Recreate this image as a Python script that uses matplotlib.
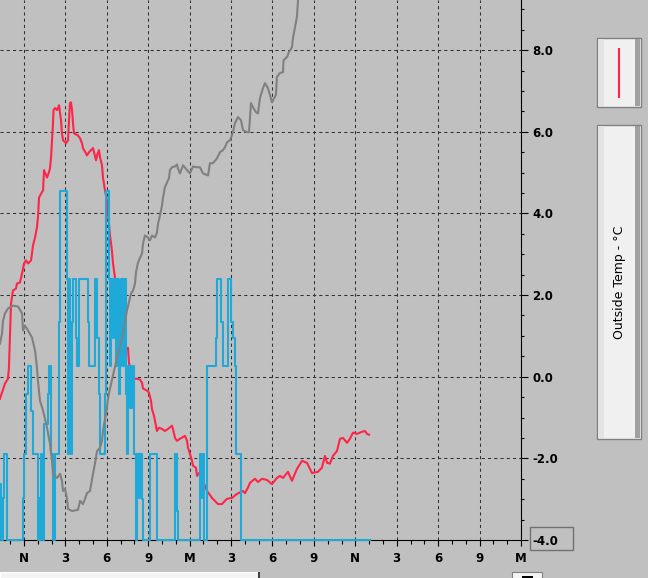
import matplotlib
matplotlib.use("Agg")
import matplotlib.pyplot as plt
from matplotlib.patches import Rectangle
from matplotlib.lines import Line2D
from matplotlib.ticker import MultipleLocator

# hours counted from midnight of the first day (12 = noon)
red_h = [10.26, 10.62, 10.84, 10.91, 10.99, 11.06, 11.20, 11.42, 11.49, 11.71,
         11.86, 12.00, 12.15, 12.29, 12.51, 12.58, 12.65, 12.80, 12.94, 13.01,
         13.09, 13.30, 13.38, 13.45, 13.67, 13.81, 13.88, 13.96, 14.03, 14.10,
         14.14, 14.25, 14.39, 14.54, 14.68, 14.75, 14.83, 15.04, 15.19, 15.26,
         15.33, 15.40, 15.48, 15.55, 15.62, 15.91, 16.06, 16.20, 16.27, 16.49,
         16.56, 16.71, 17.00, 17.07, 17.22, 17.29, 17.43, 17.51, 17.65, 17.72,
         17.87, 18.01, 18.23, 18.37, 18.45, 18.59, 18.66, 18.81, 19.10, 19.32,
         19.53, 19.61, 19.82, 19.89, 20.18, 20.40, 20.55, 20.62, 20.91, 21.05,
         21.20, 21.27, 21.42, 21.49, 21.63, 21.78, 22.00, 22.21, 22.43, 22.72,
         22.79, 22.94, 23.08, 23.30, 23.66, 23.81, 23.88, 24.02, 24.17, 24.24,
         24.46, 24.53, 24.68, 24.89, 24.96, 25.26, 25.62, 26.05, 26.34, 26.70,
         27.07, 27.43, 27.86, 28.01, 28.22, 28.37, 28.73, 28.95, 29.24, 29.60,
         29.96, 30.32, 30.54, 30.76, 31.12, 31.41, 31.77, 32.14, 32.50, 32.86,
         33.29, 33.58, 33.80, 33.95, 34.16, 34.38, 34.67, 34.89, 35.11, 35.40,
         35.61, 35.83, 36.12, 36.48, 36.70, 36.84, 36.99]
red_v = [-0.54, -0.17, -0.05, 0.22, 1.06, 1.79, 2.11, 2.16, 2.28, 2.31,
         2.53, 2.77, 2.85, 2.77, 2.85, 3.02, 3.21, 3.41, 3.66, 3.90,
         4.39, 4.52, 4.56, 5.06, 4.88, 5.01, 5.10, 5.37, 5.79, 6.21,
         6.53, 6.58, 6.53, 6.65, 6.28, 5.96, 5.79, 5.72, 5.79, 6.28,
         6.70, 6.72, 6.53, 6.21, 5.96, 5.91, 5.84, 5.72, 5.60, 5.47,
         5.42, 5.50, 5.60, 5.50, 5.30, 5.42, 5.55, 5.37, 5.18, 4.88,
         4.56, 4.32, 3.46, 3.09, 2.77, 2.43, 1.62, 1.01, 0.71, 0.64,
         0.71, 0.32, 0.15, -0.05, -0.05, -0.07, -0.15, -0.29, -0.34, -0.39,
         -0.59, -0.79, -0.96, -1.08, -1.33, -1.25, -1.28, -1.33, -1.28, -1.20,
         -1.28, -1.50, -1.57, -1.52, -1.45, -1.57, -1.74, -1.89, -2.06, -2.18,
         -2.23, -2.43, -2.36, -2.38, -2.55, -2.80, -2.97, -3.12, -3.12, -2.99,
         -2.97, -2.87, -2.80, -2.85, -2.72, -2.60, -2.50, -2.58, -2.50, -2.53,
         -2.63, -2.48, -2.43, -2.48, -2.33, -2.55, -2.26, -2.06, -2.11, -2.36,
         -2.33, -2.23, -1.94, -2.11, -2.13, -1.94, -1.82, -1.52, -1.50, -1.62,
         -1.52, -1.37, -1.40, -1.35, -1.33, -1.40, -1.42]

gray_h = [10.26, 10.41, 10.48, 10.62, 10.84, 11.20, 11.57, 11.86, 11.93, 12.07,
          12.29, 12.58, 12.80, 12.94, 13.01, 13.16, 13.38, 13.67, 13.88, 14.03,
          14.10, 14.39, 14.61, 14.75, 14.83, 14.97, 15.11, 15.19, 15.48, 15.91,
          16.06, 16.27, 16.42, 16.56, 16.78, 17.00, 17.14, 17.29, 17.51, 17.65,
          17.72, 18.01, 18.09, 18.23, 18.74, 19.10, 19.46, 19.75, 19.90, 20.04,
          20.11, 20.26, 20.55, 20.62, 20.76, 20.98, 21.13, 21.27, 21.49, 21.63,
          21.71, 21.85, 22.00, 22.07, 22.21, 22.36, 22.50, 22.57, 22.72, 22.94,
          23.08, 23.15, 23.30, 23.52, 23.81, 24.02, 24.24, 24.53, 24.75, 24.96,
          25.33, 25.47, 25.69, 25.98, 26.20, 26.41, 26.56, 26.70, 26.92, 27.14,
          27.28, 27.50, 27.72, 27.86, 28.15, 28.30, 28.44, 28.59, 28.80, 28.95,
          29.09, 29.31, 29.46, 29.67, 29.82, 29.96, 30.11, 30.25, 30.32, 30.54,
          30.76, 30.80, 31.05, 31.19, 31.41, 31.48, 31.63, 31.77, 31.85, 32.35]
gray_v = [0.81, 1.06, 1.37, 1.55, 1.67, 1.74, 1.72, 1.55, 1.13, 1.25,
          1.13, 0.96, 0.64, 0.22, -0.10, -0.59, -0.83, -1.25, -1.64, -2.06,
          -2.38, -2.48, -2.38, -2.55, -2.80, -2.75, -2.97, -3.24, -3.29, -3.26,
          -3.04, -3.12, -2.99, -2.85, -2.80, -2.38, -2.13, -1.82, -1.74, -1.57,
          -1.33, -0.76, -0.52, -0.29, 0.47, 0.96, 1.62, 2.04, 2.11, 2.28,
          2.55, 2.80, 3.02, 3.26, 3.46, 3.41, 3.34, 3.46, 3.41, 3.53,
          3.75, 3.95, 4.20, 4.39, 4.64, 4.76, 4.86, 5.06, 5.13, 5.15,
          5.20, 5.10, 4.98, 5.18, 5.06, 4.98, 5.15, 5.13, 5.13, 4.98,
          4.93, 5.23, 5.23, 5.35, 5.50, 5.55, 5.62, 5.74, 5.79, 5.99,
          6.21, 6.36, 6.28, 6.04, 5.99, 5.99, 6.70, 6.60, 6.48, 6.45,
          6.82, 7.07, 7.19, 7.07, 6.90, 6.72, 6.82, 6.90, 7.34, 7.44,
          7.46, 7.75, 7.83, 7.95, 8.07, 8.29, 8.56, 8.81, 9.23, 9.96]

blue_h = [10.26, 10.33, 10.48, 10.55, 10.77, 11.93, 12.00, 12.15, 12.29, 12.51,
          12.65, 13.01, 13.09, 13.16, 13.23, 13.30, 13.38, 13.45, 13.74, 13.81,
          13.96, 14.10, 14.25, 14.54, 14.61, 15.11, 15.19, 15.26, 15.33, 15.40,
          15.48, 15.55, 15.77, 15.84, 15.98, 16.64, 16.71, 17.14, 17.29, 17.43,
          17.51, 17.87, 17.94, 18.16, 18.23, 18.30, 18.45, 18.52, 18.66, 18.74,
          18.88, 18.95, 19.03, 19.17, 19.24, 19.39, 19.46, 19.53, 19.68, 19.82,
          19.97, 20.11, 20.18, 20.33, 20.40, 20.55, 20.62, 21.13, 21.63, 22.94,
          23.08, 23.15, 24.75, 24.89, 24.96, 25.04, 25.26, 25.91, 25.98, 26.27,
          26.41, 26.78, 26.99, 27.14, 27.28, 27.36, 27.72, 37.06]
blue_v = [-2.63, -4.0, -2.97, -1.89, -4.0, -2.97, -1.89, -0.42, 0.27, -0.83,
          -1.89, -4.0, -2.97, -4.0, -1.89, -2.97, -4.0, -1.15, -0.42, 0.27,
          -1.89, -4.0, -1.89, 1.33, 4.56, 2.40, -1.89, 2.40, -0.42, -1.89,
          1.33, 2.40, 0.96, 0.27, 2.40, 1.33, 0.27, 2.40, 0.96, -0.42,
          -1.89, -0.42, 4.56, 2.40, 0.27, 2.40, 0.96, 2.40, 0.27, 2.40,
          -0.42, 0.27, 2.40, 0.27, 2.40, -0.42, -1.89, 0.27, -0.76, 0.27,
          -1.89, -4.0, -1.89, -2.97, -1.89, -2.99, -4.0, -1.89, -4.0, -1.89,
          -3.29, -4.0, -1.89, -2.97, -1.89, -4.0, 0.27, 0.96, 2.40, 1.33,
          0.27, 2.40, 1.33, 0.96, 0.27, -1.89, -4.0, -4.0]

x_ticks = [12, 15, 18, 21, 24, 27, 30, 33, 36, 39, 42, 45, 48]
x_labels = ["N", "3", "6", "9", "M", "3", "6", "9", "N", "3", "6", "9", "M"]
y_ticks = [-4, -2, 0, 2, 4, 6, 8]
y_labels = ["-4.0", "-2.0", "0.0", "2.0", "4.0", "6.0", "8.0"]
series_label = "Outside Temp - °C"

W, H = 648, 578
BG = "#c0c0c0"
RED = "#ff2448"
BLUE = "#1ea9d9"
GRAY = "#808080"

fig = plt.figure(figsize=(W / 100, H / 100), dpi=100, facecolor=BG)
ax = fig.add_axes([0, 38 / H, 521 / W, 540 / H])
ax.set_facecolor(BG)

ax.plot(red_h, red_v, color=RED, lw=1.5, zorder=3)
ax.plot(blue_h, blue_v, color=BLUE, lw=1.5, drawstyle="steps-post", zorder=4, clip_on=False)
ax.plot(gray_h, gray_v, color=GRAY, lw=1.5, zorder=5)

ax.set_xlim(10.262, 48)
ax.set_ylim(-4, 9.227)

for s in ["left", "top"]:
    ax.spines[s].set_visible(False)
for s in ["right", "bottom"]:
    ax.spines[s].set_color("black")
    ax.spines[s].set_linewidth(0.8)
    ax.spines[s].set_zorder(2)

ax.yaxis.tick_right()
ax.set_xticks(x_ticks, labels=x_labels, fontweight="bold", fontsize=8.5)
ax.set_yticks(y_ticks, labels=y_labels, fontweight="bold", fontsize=8.5)
ax.xaxis.set_minor_locator(MultipleLocator(1))
ax.yaxis.set_minor_locator(MultipleLocator(0.5))
ax.tick_params(axis="x", which="major", direction="out", length=4.5, width=0.8, pad=4)
ax.tick_params(axis="x", which="minor", direction="out", length=3, width=0.8)
ax.tick_params(axis="y", which="major", direction="out", length=5, width=0.8, pad=3)
ax.tick_params(axis="y", which="minor", direction="out", length=2.4, width=0.8)

ax.set_axisbelow(True)
ax.grid(True, which="major", color="#303030", linestyle=(0, (3, 3)), linewidth=0.75)


def px_rect(x0, y0, x1, y1, **kw):
    return Rectangle((x0 / W, 1 - y1 / H), (x1 - x0) / W, (y1 - y0) / H,
                     transform=fig.transFigure, **kw)


# box around the lowest y label
fig.add_artist(px_rect(530, 527, 573, 550, fill=False, ec="#707070", lw=1))

# legend panel and title panel on the right
for top, bottom in [(38, 107), (125, 439)]:
    fig.add_artist(px_rect(597, top, 641, bottom, fc="#f0f0f0", ec="#808080", lw=1))
    fig.add_artist(px_rect(598, top + 1, 604, bottom - 1, fc="#e3e3e3", ec="none"))
    fig.add_artist(px_rect(635, top + 1, 640, bottom - 1, fc="#a0a0a0", ec="none"))

fig.add_artist(Line2D([619 / W, 619 / W], [1 - 49 / H, 1 - 97 / H], color=RED, lw=1.5,
                      transform=fig.transFigure))
fig.text(619 / W, 1 - 282 / H, series_label, rotation=90, ha="center", va="center",
         fontsize=9, color="black")

# cut-off controls at the bottom edge
fig.add_artist(px_rect(0, 572, 258, 580, fc="#f4f4f4", ec="#ffffff", lw=0.8))
fig.add_artist(px_rect(258, 572, 260, 580, fc="#404040", ec="none"))
fig.add_artist(px_rect(512, 572, 542, 580, fc="#f4f4f4", ec="#808080", lw=0.8))
fig.add_artist(px_rect(522, 576, 533, 580, fc="black", ec="none"))

fig.savefig("out.png", dpi=100, facecolor=BG)
